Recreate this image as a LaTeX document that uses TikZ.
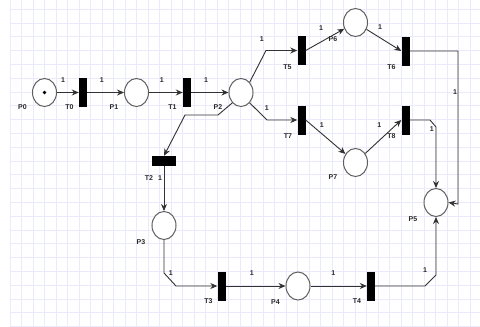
\documentclass[tikz,border=0pt]{standalone}
\usepackage{fontspec}
\setmainfont{Liberation Sans}
\usetikzlibrary{shapes.geometric,arrows.meta}
\definecolor{gridc}{RGB}{234,234,252}
\definecolor{edgec}{RGB}{50,50,50}
\definecolor{placec}{RGB}{95,95,95}
\definecolor{txtc}{RGB}{40,40,40}
\tikzset{
  place/.style={ellipse,draw=placec,line width=1pt,fill=white,minimum width=24pt,minimum height=28pt,inner sep=0pt},
  vtrans/.style={rectangle,fill=black,draw=none,minimum width=8pt,minimum height=29pt,inner sep=0pt},
  htrans/.style={rectangle,fill=black,draw=none,minimum width=24pt,minimum height=10pt,inner sep=0pt},
  arc/.style={draw=edgec,line width=0.9pt,-{Stealth[length=7pt,width=6pt]}},
  lbl/.style={font=\fontsize{7}{8}\selectfont\bfseries,text=txtc,inner sep=0pt}
}
\begin{document}
\begin{tikzpicture}[x=1pt,y=-1pt]
\useasboundingbox (0,0) rectangle (480,327);
\fill[white] (0,0) rectangle (480,327);
% grid
\foreach \i in {0,...,41} {\draw[gridc,line width=1pt] (10+\i*11.5,0) -- (10+\i*11.5,327);}
\foreach \j in {0,...,23} {\draw[gridc,line width=1pt] (10,9.3+\j*13.8) -- (480,9.3+\j*13.8);}
% places and transitions
\node[place] (P0) at (44.5,92.5) {};
\fill[black] (P0) circle (1.8pt);
\node[vtrans] (T0) at (83,92.5) {};
\node[place] (P1) at (136.5,92.5) {};
\node[vtrans] (T1) at (187,92.5) {};
\node[place] (P2) at (241,92.5) {};
\node[vtrans] (T5) at (301.5,50.5) {};
\node[place] (P6) at (355.5,22.5) {};
\node[vtrans] (T6) at (405.5,51) {};
\node[vtrans] (T7) at (301.5,120) {};
\node[place] (P7) at (355.5,162.5) {};
\node[vtrans] (T8) at (405.5,120) {};
\node[place] (P5) at (436,202.5) {};
\node[htrans] (T2) at (164,161) {};
\node[place] (P3) at (164,225.5) {};
\node[vtrans] (T3) at (221.5,286) {};
\node[place] (P4) at (298,286) {};
\node[vtrans] (T4) at (371,286) {};
% arcs
\draw[arc] (P0.east) -- (T0.west);
\draw[arc] (T0.east) -- (P1.west);
\draw[arc] (P1.east) -- (T1.west);
\draw[arc] (T1.east) -- (P2.west);
\draw[arc] (P2.50) -- (266,50.5) -- (T5.west);
\draw[arc] (T5.east) -- (P6);
\draw[arc] (P6) -- (T6.west);
\draw[arc] (T6.east) -- (458,51) -- (458,204) -- (P5.east);
\draw[arc] (P2.-50) -- (267,120) -- (T7.west);
\draw[arc] (T7.east) -- (P7);
\draw[arc] (P7) -- (T8.west);
\draw[arc] (T8.east) -- (430,120) -- (436,127) -- (P5.north);
\draw[arc] (P2.230) -- (218,115) -- (185,115) -- (T2.north);
\draw[arc] (T2.south) -- (P3.north);
\draw[arc] (P3.south) -- (164,273) -- (176,286) -- (T3.west);
\draw[arc] (T3.east) -- (P4.west);
\draw[arc] (P4.east) -- (T4.west);
\draw[arc] (T4.east) -- (425,286) -- (436,275) -- (P5.south);
% labels
\node[lbl] (lP0) at (22.5,107) {P0};
\node[lbl] (lT0) at (69.5,107) {T0};
\node[lbl] (lP1) at (114,107.5) {P1};
\node[lbl] (lT1) at (172.5,107) {T1};
\node[lbl] (lP2) at (218,107) {P2};
\node[lbl] (lT5) at (287.5,66.7) {T5};
\node[lbl] (lP6) at (333,39.3) {P6};
\node[lbl] (lT6) at (391.5,66.7) {T6};
\node[lbl] (lT7) at (288,135.7) {T7};
\node[lbl] (lT8) at (391.5,136) {T8};
\node[lbl] (lP7) at (333,176.7) {P7};
\node[lbl] (lP5) at (413,219.3) {P5};
\node[lbl] (lT2) at (149,178.3) {T2};
\node[lbl] (lP3) at (141,241.7) {P3};
\node[lbl] (lT3) at (208.5,301.5) {T3};
\node[lbl] (lP4) at (275.5,301.7) {P4};
\node[lbl] (lT4) at (357,301.5) {T4};
\node[lbl] (w1) at (63,80) {1};
\node[lbl] (w2) at (101.7,80) {1};
\node[lbl] (w3) at (161.7,80) {1};
\node[lbl] (w4) at (206,80) {1};
\node[lbl] (w5) at (261.7,39.3) {1};
\node[lbl] (w6) at (321,28.3) {1};
\node[lbl] (w7) at (380,27.3) {1};
\node[lbl] (w8) at (455,91.7) {1};
\node[lbl] (w9) at (266.7,108) {1};
\node[lbl] (w10) at (321.7,125) {1};
\node[lbl] (w11) at (379.3,125) {1};
\node[lbl] (w12) at (431.7,129) {1};
\node[lbl] (w13) at (160,178.3) {1};
\node[lbl] (w14) at (170.7,272.7) {1};
\node[lbl] (w15) at (251.7,273.3) {1};
\node[lbl] (w16) at (333.3,273.3) {1};
\node[lbl] (w17) at (425,270) {1};
\end{tikzpicture}
\end{document}
